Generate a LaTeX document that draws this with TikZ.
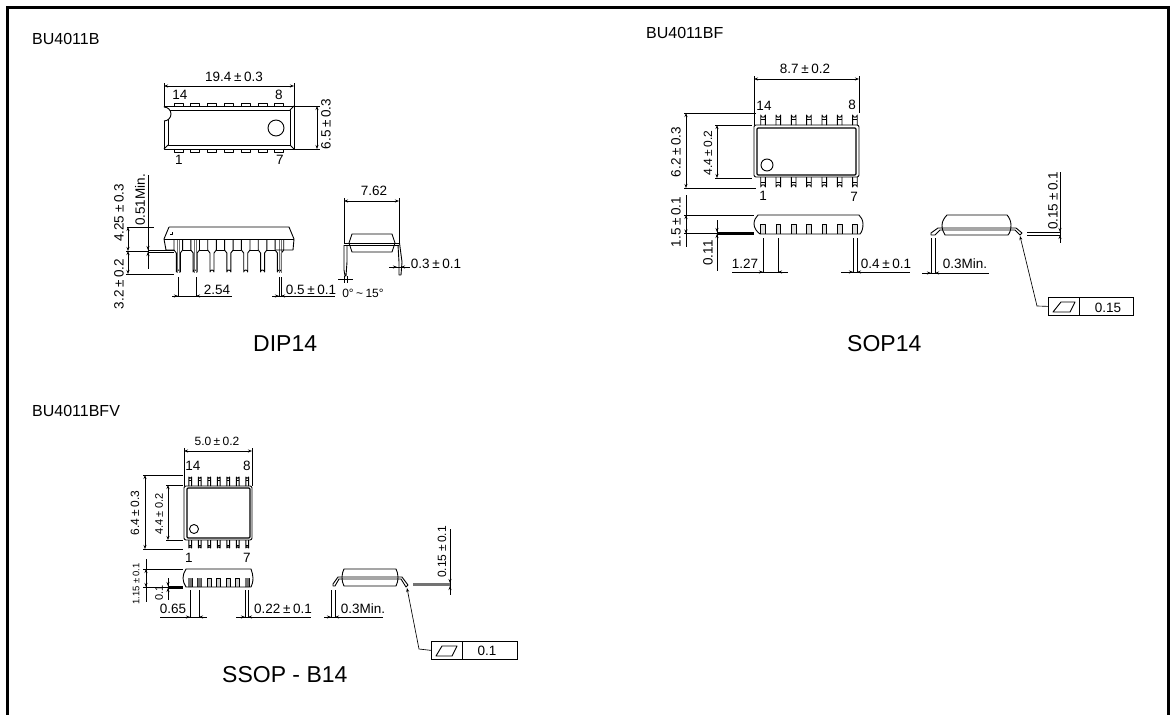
\documentclass[tikz,border=0pt]{standalone}
\usepackage{fontspec}
\setmainfont{Liberation Sans}
\usetikzlibrary{arrows.meta}
\newcommand{\fs}[1]{\fontsize{#1}{#1}\selectfont\spaceskip=0.2em\relax}
\tikzset{
  lbl/.style={inner sep=0pt,font=\fs{13.5}},
  lblm/.style={inner sep=0pt,font=\fs{12}},
  lbls/.style={inner sep=0pt,font=\fs{11}},
  lblt/.style={inner sep=0pt,font=\fs{9.5}},
  title/.style={inner sep=0pt,font=\fontsize{16}{16}\selectfont,anchor=west},
  pkg/.style={inner sep=0pt,font=\fontsize{23}{23}\selectfont,anchor=west},
  rot/.style={rotate=90},
  part/.style={draw=black,line width=0.9pt,line join=round},
  dimn/.style={draw=black,line width=0.65pt},
  both/.style={dimn,{Stealth[length=4pt,width=3pt]}-{Stealth[length=4pt,width=3pt]}},
  tip/.style={dimn,-{Stealth[length=4pt,width=3pt]}},
  gray line/.style={draw=black!55,line width=0.7pt},
}
\begin{document}
\begin{tikzpicture}[x=1pt,y=-1pt]
\useasboundingbox (0,0) rectangle (1176,715);
\fill[white] (0,0) rectangle (1176,715);
\begin{scope}
\clip (0,0) rectangle (1176,715);
\draw[black,line width=3pt] (7,7) rectangle (1168,740);
\end{scope}

% ---------- titles ---------
\node[title] (tA) at (32,39) {BU4011B};
\node[title] (tB) at (646,33) {BU4011BF};
\node[title] (tC) at (32,411) {BU4011BFV};
\node[pkg] (pA) at (253,344) {DIP14};
\node[pkg] (pB) at (847,344) {SOP14};
\node[pkg] (pC) at (222,675) {SSOP - B14};

% ========== DIP14 top ==========
\draw[part] (164,106) rectangle (294,149);
\draw[part] (168,110) rectangle (290,145);
\draw[part] (164,106)--(168,110) (294,106)--(290,110) (164,149)--(168,145) (294,149)--(290,145);
\draw[part,fill=white] (164,121) arc[start angle=90,end angle=-90,radius=7];
\draw[part] (276,128) circle[radius=8];
\foreach \i in {0,...,6}{
  \draw[part] ({174+16.8*\i},106) -- ({174+16.8*\i},103) -- ({183+16.8*\i},103) -- ({183+16.8*\i},106);
  \draw[part] ({174+16.8*\i},149) -- ({174+16.8*\i},152) -- ({183+16.8*\i},152) -- ({183+16.8*\i},149);
}
\draw[both] (164,86) -- (294,86);
\draw[dimn] (164,83) -- (164,106) (294,83) -- (294,106);
\node[lbl] (a1) at (234,77) {19.4 ± 0.3};
\node[lbl] (a2) at (180,95) {14};
\node[lbl] (a3) at (279,95) {8};
\node[lbl] (a4) at (179,160) {1};
\node[lbl] (a5) at (280,160) {7};
\draw[both] (317,106) -- (317,149);
\draw[dimn] (294,106) -- (320,106) (294,149) -- (320,149);
\node[lbl,rot] (a6) at (326,124) {6.5 ± 0.3};

% ========== DIP14 side ==========
\foreach \i in {0,...,6}{
  \draw[part] ({174+16.85*\i},239) -- ({174+16.85*\i},250) -- ({176.3+16.85*\i},253) -- ({176.3+16.85*\i},272)
     arc[start angle=180,end angle=360,radius=2] -- ({180.3+16.85*\i},253) -- ({182.6+16.85*\i},250) -- ({182.6+16.85*\i},239);
}
\foreach \x in {178.3,195.2,280.4}{ \draw[gray line] (\x-1.2,240) -- (\x-1.2,273) (\x+1.2,240) -- (\x+1.2,273); }
\draw[part] (169,227) -- (289,227) -- (294,239) -- (293,250) -- (276,250);
\draw[part] (169,227) -- (164,239) -- (166,250) -- (174,250);
\draw[part] (164,239) -- (294,239);
\foreach \i in {0,...,5}{ \draw[part] ({182.6+16.85*\i},250) -- ({190.85+16.85*\i},250); }
\draw[part] (172,232) -- (172,234) -- (170,234);
\draw[both] (128,227) -- (128,251);
\draw[both] (128,251) -- (128,274);
\draw[dimn] (127,227) -- (154,227) (126,251) -- (148,251) (126,274) -- (174,274);
\draw[dimn] (148,175) -- (148,269);
\draw[tip] (148,243) -- (148,250);
\draw[tip] (148,259) -- (148,252);
\draw[dimn] (148,250) -- (174,250) (148,252) -- (174,252);
\node[lbl,rot] (a7) at (119,213) {4.25 ± 0.3};
\node[lbl,rot] (a8) at (119,284) {3.2 ± 0.2};
\node[lbl,rot] (a9) at (140,200) {0.51Min.};
\draw[dimn] (178,277) -- (178,296) (196,277) -- (196,296);
\draw[dimn] (172,296) -- (232,296);
\draw[tip] (172,296) -- (178,296);
\draw[tip] (202,296) -- (196,296);
\node[lbl] (a10) at (217,290) {2.54};
\draw[dimn] (279,277) -- (279,296) (281,277) -- (281,296);
\draw[dimn] (272,296) -- (335,296);
\draw[tip] (273,296) -- (279,296);
\draw[tip] (287,296) -- (281,296);
\node[lbl] (a11) at (311,290) {0.5 ± 0.1};

% ========== DIP14 end ==========
\draw[part] (352,234) -- (392,234) -- (395,243) -- (392,252) -- (352,252) -- (349,243) -- cycle;
\draw[part] (344,243) -- (399,243) (344,245) -- (399,245);
\draw[part] (344,245) -- (344,270) -- (345,276) -- (346,276) -- (347,262) -- (347,245);
\draw[part] (398,245) -- (399,262) -- (399,275) -- (401,275) -- (402,262) -- (399.5,243);
\draw[both] (344,201) -- (399,201);
\draw[dimn] (344,198) -- (344,243) (399,198) -- (399,243);
\node[lbl] (a12) at (374,191) {7.62};
\draw[dimn] (389,267) -- (410,267);
\draw[tip] (390,267) -- (397,267);
\draw[tip] (408,267) -- (401,267);
\node[lbl] (a13) at (436,264) {0.3 ± 0.1};
\draw[dimn] (338,279) -- (353,279);
\draw[dimn] (344,276) -- (344,283) (347,276) -- (347,283);
\node[lblm] (a14) at (363,293) {0° \textasciitilde{} 15°};

% ========== SOP14 top ==========
\draw[part,rounded corners=2pt] (754,125) rectangle (859,177);
\draw[part,line width=1.1pt,rounded corners=1pt] (757,128) rectangle (856,175);
\draw[part] (767,165) circle[radius=6];
\foreach \i in {0,...,6}{
  \draw[part] ({760.7+15.33*\i},125) -- ({760.7+15.33*\i},115) arc[start angle=180,end angle=0,radius=2.3] -- ({765.3+15.33*\i},125);
  \draw[part] ({760.7+15.33*\i},119.5) -- ({765.3+15.33*\i},119.5);
  \draw[part] ({760.7+15.33*\i},177) -- ({760.7+15.33*\i},187) arc[start angle=180,end angle=360,radius=2.3] -- ({765.3+15.33*\i},177);
  \draw[part] ({760.7+15.33*\i},182.5) -- ({765.3+15.33*\i},182.5);
}
\draw[both] (754,79) -- (859,79);
\draw[dimn] (754,76) -- (754,125) (859,76) -- (859,113);
\node[lbl] (b1) at (805,69) {8.7 ± 0.2};
\node[lbl] (b2) at (764,106) {14};
\node[lbl] (b3) at (852,105) {8};
\node[lbl] (b4) at (763,196) {1};
\node[lbl] (b5) at (854,197) {7};
\draw[both] (686,113) -- (686,188);
\draw[dimn] (684,113) -- (756,113) (684,188) -- (756,188);
\node[lbl,rot] (b6) at (676,152) {6.2 ± 0.3};
\draw[both] (717,125) -- (717,178);
\draw[dimn] (715,125) -- (752,125) (715,178) -- (752,178);
\node[lblm,rot] (b7) at (708,153) {4.4 ± 0.2};

% ========== SOP14 side ==========
\foreach \i in {0,...,6}{
  \draw[part,fill=black!12] ({760.7+15.33*\i},234) -- ({760.7+15.33*\i},224) -- ({765.3+15.33*\i},224) -- ({765.3+15.33*\i},234);
}
\draw[part] (758,215) -- (859,215) .. controls (861,217) and (863,220) .. (863,224) .. controls (863,228) and (862,232) .. (860,234) -- (760,234) .. controls (757,232) and (754,228) .. (754,224) .. controls (754,220) and (756,217) .. (758,215) -- cycle;
\draw[dimn] (686,195) -- (686,247);
\draw[both] (686,215) -- (686,233.5);
\draw[dimn] (684,215) -- (754,215) (684,233.5) -- (754,233.5);
\node[lbl,rot] (b8) at (676,222) {1.5 ± 0.1};
\draw[dimn] (717,220) -- (717,271);
\draw[tip] (717,226) -- (717,232);
\draw[tip] (717,240) -- (717,234);
\draw[dimn] (717,232) -- (754,232) (717,234) -- (754,234);
\node[lbl,rot] (b9) at (708,253) {0.11};
\draw[dimn] (763,238) -- (763,272) (778,238) -- (778,272);
\draw[dimn] (732,272) -- (788,272);
\draw[tip] (757,272) -- (763,272);
\draw[tip] (784,272) -- (778,272);
\node[lbl] (b10) at (745,264) {1.27};
\draw[dimn] (853,238) -- (853,272) (857,238) -- (857,272);
\draw[dimn] (841,272) -- (910,272);
\draw[tip] (847,272) -- (853,272);
\draw[tip] (863,272) -- (857,272);
\node[lbl] (b11) at (886,264) {0.4 ± 0.1};

% ========== SOP14 end ==========
\draw[part] (947,215) -- (1007,215) .. controls (1009,217) and (1011,221) .. (1011,225) .. controls (1011,229) and (1010,233) .. (1008,235) -- (945,235) .. controls (943,232) and (942,229) .. (942,225) .. controls (942,221) and (945,217) .. (947,215) -- cycle;
\draw[part] (931,233) -- (938,228) -- (1016,228) -- (1022,233) -- (1020,235) -- (1015,230) -- (940,230) -- (935,235) -- (931,235) -- cycle;
\draw[dimn] (1060,172) -- (1060,243);
\draw[tip] (1060,226) -- (1060,232);
\draw[tip] (1060,241) -- (1060,235);
\draw[dimn] (1027,232) -- (1060,232) (1027,235) -- (1060,235);
\node[lbl,rot] (b12) at (1053,201) {0.15 ± 0.1};
\draw[dimn] (931,238) -- (931,273) (935,238) -- (935,273);
\draw[dimn] (922,273) -- (989,273);
\draw[tip] (925,273) -- (931,273);
\draw[tip] (941,273) -- (935,273);
\node[lbl] (b13) at (965,264) {0.3Min.};
\coordinate (bl) at (1037,306);
\coordinate (bt) at (1020,236);
\node[draw=black,line width=0.75pt,minimum width=85pt,minimum height=18pt,inner sep=0pt,anchor=north west] (bbox) at (1048,297) {};
\draw[dimn,{Stealth[length=4pt,width=3pt]}-] (bt) -- (bl) -- (bbox.west);
\draw[dimn,line width=0.75pt] (1079,297) -- (1079,315);
\draw[part] (1053,312) -- (1061,302) -- (1075,302) -- (1070,312) -- cycle;
\node[lbl] (b14) at (1108,308) {0.15};

% ========== SSOP top ==========
\draw[part,rounded corners=2pt] (184,486) rectangle (252,540);
\draw[part,line width=1.1pt,rounded corners=1pt] (187,488) rectangle (250,538);
\draw[part] (194,529) circle[radius=4.5];
\foreach \i in {0,...,6}{
  \draw[part] ({188.8+9.5*\i},486) -- ({188.8+9.5*\i},477) arc[start angle=180,end angle=0,radius=1.4] -- ({191.6+9.5*\i},486);
  \draw[part] ({188.8+9.5*\i},480.5) -- ({191.6+9.5*\i},480.5);
  \draw[part] ({188.8+9.5*\i},540) -- ({188.8+9.5*\i},548) arc[start angle=180,end angle=360,radius=1.4] -- ({191.6+9.5*\i},540);
  \draw[part] ({188.8+9.5*\i},545) -- ({191.6+9.5*\i},545);
}
\draw[both] (184,451) -- (252,451);
\draw[dimn] (184,448) -- (184,486) (252,448) -- (252,486);
\node[lblm] (c1) at (217,441) {5.0 ± 0.2};
\node[lbl] (c2) at (193,466) {14};
\node[lbl] (c3) at (247,466) {8};
\node[lbl] (c4) at (189,558) {1};
\node[lbl] (c5) at (247,558) {7};
\draw[both] (145,475) -- (145,549);
\draw[dimn] (143,475) -- (183,475) (143,549) -- (183,549);
\node[lblm,rot] (c6) at (135,513) {6.4 ± 0.3};
\draw[both] (168,485) -- (168,540);
\draw[dimn] (166,485) -- (183,485) (166,540) -- (183,540);
\node[lbls,rot] (c7) at (159,514) {4.4 ± 0.2};

% ========== SSOP side ==========
\foreach \i in {0,...,6}{
  \draw[part,fill=black!18] ({188+9.5*\i},587) -- ({188+9.5*\i},578) -- ({192+9.5*\i},578) -- ({192+9.5*\i},587);
}
\fill[black!55] (188,578) rectangle (192,587) (197.5,578) rectangle (201.5,587) (245,578) rectangle (249,587);
\draw[part] (186,569) -- (251,569) .. controls (252,572) and (253,575) .. (253,578) .. controls (253,582) and (252,585) .. (251,587) -- (186,587) .. controls (184,584) and (183,581) .. (183,578) .. controls (183,575) and (184,572) .. (186,569) -- cycle;
\draw[dimn] (146,559) -- (146,602);
\draw[both] (146,569) -- (146,587);
\draw[dimn] (143,569) -- (183,569) (143,587) -- (183,587);
\node[lblt,rot] (c8) at (136,584) {1.15 ± 0.1};
\draw[dimn] (168,578) -- (168,600);
\draw[tip] (168,580) -- (168,586);
\draw[tip] (168,594) -- (168,588);
\draw[dimn] (168,586) -- (183,586) (168,588) -- (183,588);
\node[lbls,rot] (c9) at (159,593) {0.1};
\draw[dimn] (190,590) -- (190,617) (199,590) -- (199,617);
\draw[dimn] (160,617) -- (207,617);
\draw[tip] (184,617) -- (190,617);
\draw[tip] (205,617) -- (199,617);
\node[lbl] (c10) at (173,609) {0.65};
\draw[dimn] (245,590) -- (245,617) (248,590) -- (248,617);
\draw[dimn] (236,617) -- (311,617);
\draw[tip] (239,617) -- (245,617);
\draw[tip] (254,617) -- (248,617);
\node[lbl] (c11) at (283,609) {0.22 ± 0.1};

% ========== SSOP end ==========
\draw[part] (344,569) -- (396,569) .. controls (397,571) and (398,574) .. (398,577) .. controls (398,581) and (397,584) .. (396,586) -- (344,586) .. controls (343,584) and (342,581) .. (342,577) .. controls (342,574) and (343,571) .. (344,569) -- cycle;
\draw[part] (333,584) -- (338,577) -- (402,577) -- (408,585) -- (406,587) -- (401,579) -- (339,579) -- (335,586) -- (333,586) -- cycle;
\draw[dimn] (450,529) -- (450,595);
\draw[tip] (450,577) -- (450,583);
\draw[tip] (450,592) -- (450,586);
\draw[gray line,line width=2.6pt] (413,584.5) -- (450,584.5);
\node[lblm,rot] (c12) at (442,552) {0.15 ± 0.1};
\draw[dimn] (331,590) -- (331,617) (335,590) -- (335,617);
\draw[dimn] (324,617) -- (383,617);
\draw[tip] (325,617) -- (331,617);
\draw[tip] (341,617) -- (335,617);
\node[lbl] (c13) at (363,609) {0.3Min.};
\coordinate (cl) at (419,649);
\coordinate (ct) at (407,588);
\node[draw=black,line width=0.75pt,minimum width=86pt,minimum height=18pt,inner sep=0pt,anchor=north west] (cbox) at (431,641) {};
\draw[dimn,{Stealth[length=4pt,width=3pt]}-] (ct) -- (cl) -- (cbox.west);
\draw[dimn,line width=0.75pt] (462,641) -- (462,659);
\draw[part] (436,656) -- (442,646) -- (457,646) -- (452,656) -- cycle;
\node[lbl] (c14) at (487,651) {0.1};
\end{tikzpicture}
\end{document}
